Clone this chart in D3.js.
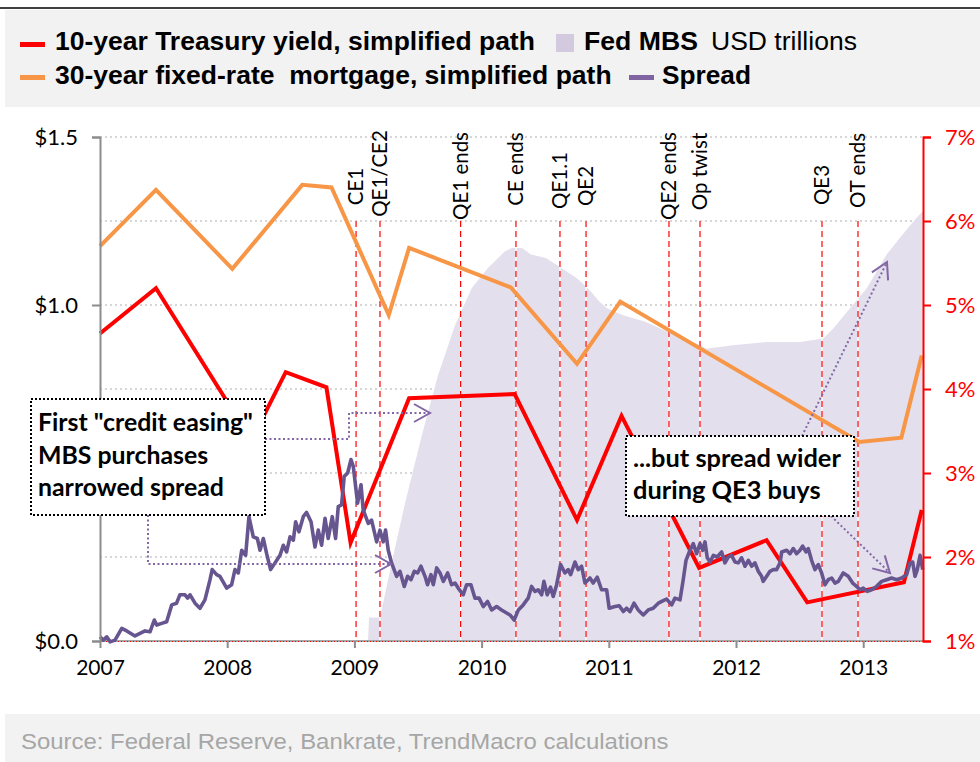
<!DOCTYPE html>
<html><head><meta charset="utf-8">
<script src="https://cdn.jsdelivr.net/npm/d3@7"></script>
<style>body{margin:0;background:#fff} svg{display:block}</style>
</head><body>
<svg id="c" width="980" height="762"></svg>
<script>
// ---------------- DATA ----------------
const years = [2007, 2008, 2009, 2010, 2011, 2012, 2013];
const leftTicks = [0, 1.0, 1.5];
const rightTicks = [1, 2, 3, 4, 5, 6, 7];

const tsyDates  = [2007.00, 2007.44, 2008.19, 2008.46, 2008.78, 2008.97, 2009.43, 2010.26, 2010.75, 2011.10, 2011.71, 2012.24, 2012.56, 2013.32, 2013.46];
const tsyValues = [4.66, 5.20, 3.39, 4.20, 4.02, 2.17, 3.89, 3.94, 2.44, 3.68, 1.87, 2.20, 1.46, 1.70, 2.56];

const mtgDates  = [2007.00, 2007.44, 2008.04, 2008.59, 2008.82, 2009.27, 2009.43, 2010.23, 2010.75, 2011.09, 2012.97, 2013.30, 2013.46];
const mtgValues = [5.70, 6.37, 5.43, 6.43, 6.40, 4.88, 5.68, 5.21, 4.30, 5.04, 3.37, 3.42, 4.40];

// Fed MBS holdings, USD trillions [year, value]
const mbs = [[2009.107,0],[2009.115,0.07],[2009.201,0.07],[2009.303,0.25],[2009.398,0.41],[2009.529,0.61],[2009.657,0.79],[2009.791,0.94],[2009.922,1.05],[2010.050,1.11],[2010.184,1.16],[2010.239,1.17],[2010.318,1.17],[2010.388,1.15],[2010.506,1.14],[2010.627,1.11],[2010.747,1.08],[2010.836,1.05],[2010.927,1.01],[2010.986,0.99],[2011.107,0.97],[2011.287,0.95],[2011.467,0.92],[2011.587,0.90],[2011.722,0.88],[2011.767,0.87],[2011.976,0.88],[2012.241,0.89],[2012.503,0.89],[2012.686,0.90],[2012.765,0.93],[2012.896,0.99],[2013.028,1.05],[2013.184,1.15],[2013.289,1.20],[2013.420,1.26],[2013.470,1.28]];

// Spread, percent (right axis) [year, value]
const spread = [[2007.000,1.05],[2007.026,1.01],[2007.053,1.05],[2007.079,0.99],[2007.118,1.01],[2007.171,1.15],[2007.210,1.12],[2007.275,1.06],[2007.354,1.12],[2007.393,1.11],[2007.427,1.25],[2007.446,1.19],[2007.485,1.21],[2007.524,1.23],[2007.564,1.43],[2007.602,1.45],[2007.628,1.55],[2007.668,1.55],[2007.689,1.51],[2007.708,1.55],[2007.747,1.45],[2007.786,1.39],[2007.825,1.49],[2007.865,1.73],[2007.882,1.85],[2007.917,1.79],[2007.943,1.77],[2007.996,1.63],[2008.035,1.67],[2008.061,1.85],[2008.087,1.81],[2008.114,2.08],[2008.145,2.02],[2008.171,2.48],[2008.205,2.24],[2008.237,2.22],[2008.258,2.08],[2008.284,2.22],[2008.310,2.04],[2008.341,1.85],[2008.376,1.93],[2008.415,2.02],[2008.441,2.14],[2008.467,2.06],[2008.494,2.24],[2008.520,2.20],[2008.538,2.42],[2008.564,2.30],[2008.598,2.48],[2008.624,2.53],[2008.659,2.42],[2008.690,2.12],[2008.716,2.32],[2008.742,2.14],[2008.769,2.46],[2008.794,2.22],[2008.826,2.48],[2008.852,2.22],[2008.873,2.60],[2008.899,2.62],[2008.920,2.96],[2008.947,3.00],[2008.973,3.16],[2008.991,3.08],[2009.025,2.64],[2009.052,2.86],[2009.069,2.56],[2009.109,2.40],[2009.135,2.44],[2009.175,2.18],[2009.201,2.32],[2009.226,2.18],[2009.245,2.32],[2009.266,2.08],[2009.292,1.93],[2009.332,1.77],[2009.358,1.83],[2009.392,1.65],[2009.418,1.77],[2009.445,1.73],[2009.471,1.83],[2009.497,1.81],[2009.523,1.89],[2009.555,1.77],[2009.575,1.67],[2009.602,1.79],[2009.620,1.67],[2009.647,1.87],[2009.673,1.81],[2009.699,1.71],[2009.733,1.81],[2009.764,1.67],[2009.791,1.69],[2009.816,1.63],[2009.855,1.55],[2009.882,1.67],[2009.916,1.67],[2009.948,1.51],[2009.980,1.51],[2010.013,1.41],[2010.047,1.47],[2010.079,1.37],[2010.118,1.41],[2010.157,1.37],[2010.223,1.31],[2010.256,1.25],[2010.289,1.37],[2010.327,1.43],[2010.366,1.51],[2010.393,1.65],[2010.420,1.59],[2010.445,1.61],[2010.472,1.55],[2010.490,1.71],[2010.516,1.55],[2010.542,1.64],[2010.563,1.53],[2010.590,1.67],[2010.621,1.91],[2010.655,1.81],[2010.681,1.85],[2010.700,1.79],[2010.734,1.94],[2010.759,1.85],[2010.786,1.89],[2010.813,1.69],[2010.852,1.75],[2010.877,1.69],[2010.909,1.76],[2010.943,1.61],[2010.983,1.61],[2011.003,1.39],[2011.048,1.41],[2011.082,1.42],[2011.114,1.35],[2011.140,1.39],[2011.167,1.35],[2011.198,1.45],[2011.231,1.37],[2011.271,1.31],[2011.310,1.37],[2011.349,1.39],[2011.389,1.45],[2011.428,1.48],[2011.454,1.50],[2011.494,1.43],[2011.520,1.51],[2011.560,1.49],[2011.585,1.73],[2011.607,1.96],[2011.638,2.08],[2011.664,2.16],[2011.690,2.04],[2011.717,2.16],[2011.738,2.08],[2011.756,2.18],[2011.774,1.99],[2011.796,1.94],[2011.822,2.02],[2011.852,2.00],[2011.887,2.06],[2011.913,1.93],[2011.939,2.00],[2011.965,2.02],[2011.992,1.94],[2012.018,1.93],[2012.044,1.99],[2012.071,1.89],[2012.097,1.96],[2012.123,1.89],[2012.149,1.93],[2012.175,1.83],[2012.201,1.77],[2012.214,1.71],[2012.241,1.77],[2012.267,1.83],[2012.293,1.85],[2012.319,1.85],[2012.346,1.93],[2012.359,2.06],[2012.398,2.08],[2012.424,2.04],[2012.450,2.10],[2012.476,2.04],[2012.503,2.08],[2012.524,2.13],[2012.550,2.06],[2012.568,2.10],[2012.594,1.96],[2012.621,1.85],[2012.647,1.91],[2012.673,1.81],[2012.699,1.67],[2012.725,1.73],[2012.752,1.75],[2012.778,1.69],[2012.804,1.71],[2012.843,1.81],[2012.882,1.77],[2012.917,1.69],[2012.948,1.65],[2012.975,1.61],[2013.000,1.63],[2013.032,1.59],[2013.066,1.61],[2013.105,1.65],[2013.145,1.71],[2013.184,1.73],[2013.223,1.75],[2013.263,1.73],[2013.302,1.75],[2013.341,1.79],[2013.368,1.93],[2013.389,1.94],[2013.407,1.77],[2013.425,1.85],[2013.447,2.02],[2013.468,1.85]];

const eventNames = ["CE1", "QE1/CE2", "QE1 ends", "CE ends", "QE1.1", "QE2", "QE2 ends", "Op twist", "QE3", "OT ends"];
const eventDates = [2009.013, 2009.201, 2009.835, 2010.270, 2010.616, 2010.821, 2011.473, 2011.717, 2012.676, 2012.959];

const legendRow1 = ["10-year Treasury yield, simplified path", "Fed MBS", "USD trillions"];
const legendRow2 = ["30-year fixed-rate  mortgage, simplified path", "Spread"];
const note1 = ['First "credit easing"', "MBS purchases", "narrowed spread"];
const note2 = ["...but spread wider", "during QE3 buys"];
const source = "Source: Federal Reserve, Bankrate, TrendMacro calculations";

// ---------------- LAYOUT ----------------
const svg = d3.select("#c");
const L = 100, R = 923, T = 137, B = 641;
const x = d3.scaleLinear().domain([2007, 2013.47]).range([L, R]);
const yL = d3.scaleLinear().domain([0, 1.5]).range([B, T]);
const yR = d3.scaleLinear().domain([1, 7]).range([B, T]);

const CAL = "Lato, 'Open Sans', sans-serif";
const ARIAL = "'Liberation Sans', Arial, sans-serif";
const RED = "#ff0000", ORANGE = "#f79646", PURPLE = "#66558f", LAV = "#e4dfec", ARROW = "#8266a6";

function fit(sel, target) {
  const w = sel.node().getComputedTextLength();
  const fs = parseFloat(sel.attr("font-size"));
  const nf = fs * target / w;
  sel.attr("font-size", nf);
  return nf;
}

// header band
svg.append("line").attr("x1", 0).attr("x2", 980).attr("y1", 8).attr("y2", 8).attr("stroke", "#000").attr("stroke-width", 1.5);
svg.append("rect").attr("x", 5).attr("y", 10).attr("width", 975).attr("height", 97).attr("fill", "#f2f2f2");
// footer band
svg.append("rect").attr("x", 5).attr("y", 714).attr("width", 975).attr("height", 48).attr("fill", "#f2f2f2");

// gridlines (right axis)
svg.append("g").selectAll("line").data(rightTicks.slice(1)).join("line")
  .attr("x1", L).attr("x2", R).attr("y1", d => yR(d)).attr("y2", d => yR(d))
  .attr("stroke", "#c9c9c9").attr("stroke-width", 1.3).attr("stroke-dasharray", "2,3");

// MBS area
svg.append("path").datum(mbs)
  .attr("d", d3.area().x(d => x(d[0])).y0(yL(0)).y1(d => yL(d[1])))
  .attr("fill", LAV);

// event lines
const ev = svg.append("g");
eventDates.forEach((d, i) => {
  ev.append("line").attr("x1", x(d)).attr("x2", x(d)).attr("y1", yR(6)).attr("y2", B)
    .attr("stroke", "#fff").attr("stroke-width", 1.2);
  ev.append("line").attr("x1", x(d)).attr("x2", x(d)).attr("y1", yR(6)).attr("y2", B)
    .attr("stroke", RED).attr("stroke-width", 1.2).attr("stroke-dasharray", "6,4");
});
// event labels (vertical centre per label)
const labelMid = [186.5, 173.5, 176, 169, 180.5, 186, 176, 171.5, 185, 170.5];
const probe = svg.append("text").attr("font-family", CAL).attr("font-size", 20).text("QE1 ends");
const evSize = fit(probe, 88); probe.remove();
eventDates.forEach((d, i) => {
  ev.append("text").attr("transform", `translate(${x(d)},${labelMid[i]}) rotate(-90)`)
    .attr("text-anchor", "middle").attr("dy", "0.36em")
    .attr("font-family", CAL).attr("font-size", evSize).attr("fill", "#000").text(eventNames[i]);
});

// bottom axis line
svg.append("line").attr("x1", L).attr("x2", R).attr("y1", B).attr("y2", B).attr("stroke", "#a6a6a6").attr("stroke-width", 2);
svg.append("line").attr("x1", L).attr("x2", R).attr("y1", B + 0.5).attr("y2", B + 0.5).attr("stroke", RED).attr("stroke-width", 1).attr("stroke-dasharray", "1,2");

// lines
const line = d3.line();
svg.append("path").attr("d", line(mtgDates.map((d, i) => [x(d), yR(mtgValues[i])])))
  .attr("fill", "none").attr("stroke", ORANGE).attr("stroke-width", 4).attr("stroke-linejoin", "miter");
svg.append("path").attr("d", line(tsyDates.map((d, i) => [x(d), yR(tsyValues[i])])))
  .attr("fill", "none").attr("stroke", RED).attr("stroke-width", 4).attr("stroke-linejoin", "miter");
svg.append("path").attr("d", line(spread.map(d => [x(d[0]), yR(d[1])])))
  .attr("fill", "none").attr("stroke", PURPLE).attr("stroke-width", 3.6).attr("stroke-linejoin", "round");

// axes
const axL = svg.append("g").attr("transform", `translate(${L},0)`)
  .call(d3.axisLeft(yL).tickValues(leftTicks).tickSize(8).tickPadding(14).tickFormat(d => "$" + d3.format(".1f")(d)));
axL.select(".domain").attr("stroke", "#8c8c8c").attr("stroke-width", 2);
axL.selectAll(".tick line").attr("stroke", "#8c8c8c").attr("stroke-width", 2);
axL.selectAll("text").attr("font-family", CAL).attr("font-size", 22).attr("fill", "#000");
const axR = svg.append("g").attr("transform", `translate(${R},0)`)
  .call(d3.axisRight(yR).tickValues(rightTicks).tickSize(8).tickPadding(14).tickFormat(d => d + "%"));
axR.select(".domain").attr("stroke", RED).attr("stroke-width", 2);
axR.selectAll(".tick line").attr("stroke", RED).attr("stroke-width", 2);
axR.selectAll("text").attr("font-family", CAL).attr("font-size", 22).attr("fill", RED);
const axB = svg.append("g").attr("transform", `translate(0,${B})`)
  .call(d3.axisBottom(x).tickValues(years).tickSize(7).tickPadding(12).tickFormat(d3.format("d")));
axB.select(".domain").remove();
axB.selectAll(".tick line").attr("stroke", "#8c8c8c").attr("stroke-width", 2);
axB.selectAll("text").attr("font-family", CAL).attr("font-size", 21).attr("fill", "#000");

// arrows
const defs = svg.append("defs");
defs.append("marker").attr("id", "chev").attr("markerUnits", "userSpaceOnUse")
  .attr("viewBox", "-20 -12 24 24").attr("refX", 0).attr("refY", 0)
  .attr("markerWidth", 24).attr("markerHeight", 24).attr("orient", "auto")
  .append("path").attr("d", "M-16,-9 L0,0 L-16,9").attr("fill", "none")
  .attr("stroke", ARROW).attr("stroke-width", 2);
const arrows = [
  [[265, 439], [349, 439], [349, 413], [430, 413]],
  [[148, 515], [148, 564], [391, 564]],
  [[802, 436], [887, 262]],
  [[831, 516], [890, 573]]
];
arrows.forEach(a => {
  svg.append("path").attr("d", d3.line()(a)).attr("fill", "none").attr("stroke", ARROW)
    .attr("stroke-width", 2).attr("stroke-dasharray", "2,2.5").attr("marker-end", "url(#chev)");
});

// note boxes
function noteBox(bx, by, bw, bh, lines, tx, ty, lh, target) {
  svg.append("rect").attr("x", bx).attr("y", by).attr("width", bw).attr("height", bh)
    .attr("fill", "#fff").attr("stroke", "#000").attr("stroke-width", 2).attr("stroke-dasharray", "2,2");
  const t0 = svg.append("text").attr("font-family", CAL).attr("font-weight", 700).attr("font-size", 24).text(lines[0]);
  const fs = fit(t0, target); t0.remove();
  lines.forEach((s, i) => svg.append("text").attr("x", tx).attr("y", ty + i * lh)
    .attr("font-family", CAL).attr("font-weight", 700).attr("font-size", fs).attr("fill", "#000").text(s));
}
noteBox(31, 399, 234, 116, note1, 38, 431, 32.5, 215);
noteBox(626, 436, 228, 80, note2, 633, 467, 31.5, 208);

// legend: condensed (narrow) look by horizontal scaling of a 25px face
function legText(str, tx, ty, w, bold) {
  const t = svg.append("text").attr("font-family", ARIAL)
    .attr("font-weight", bold ? 700 : 400).attr("font-size", 25).attr("fill", "#000")
    .style("white-space", "pre").text(str);
  const cw = t.node().getComputedTextLength();
  t.attr("transform", `translate(${tx},${ty}) scale(${w / cw},1)`);
}
svg.append("line").attr("x1", 20).attr("x2", 45).attr("y1", 44.5).attr("y2", 44.5).attr("stroke", RED).attr("stroke-width", 5);
legText(legendRow1[0], 55, 50, 480, true);
svg.append("rect").attr("x", 556).attr("y", 34).attr("width", 18).attr("height", 18).attr("fill", "#d4cae0");
legText(legendRow1[1], 584, 50, 114, true);
legText(legendRow1[2], 711, 50, 146, false);
svg.append("line").attr("x1", 20).attr("x2", 45).attr("y1", 77.5).attr("y2", 77.5).attr("stroke", ORANGE).attr("stroke-width", 5);
legText(legendRow2[0], 55, 84, 557, true);
svg.append("line").attr("x1", 629).attr("x2", 654).attr("y1", 77.5).attr("y2", 77.5).attr("stroke", "#8064a2").attr("stroke-width", 5);
legText(legendRow2[1], 662, 84, 89, true);

// source
const src = svg.append("text").attr("font-family", ARIAL)
  .attr("font-size", 22).attr("fill", "#a6a6a6").text(source);
const sw = src.node().getComputedTextLength();
src.attr("transform", `translate(21,749) scale(${648 / sw},1)`);
</script>
</body></html>
